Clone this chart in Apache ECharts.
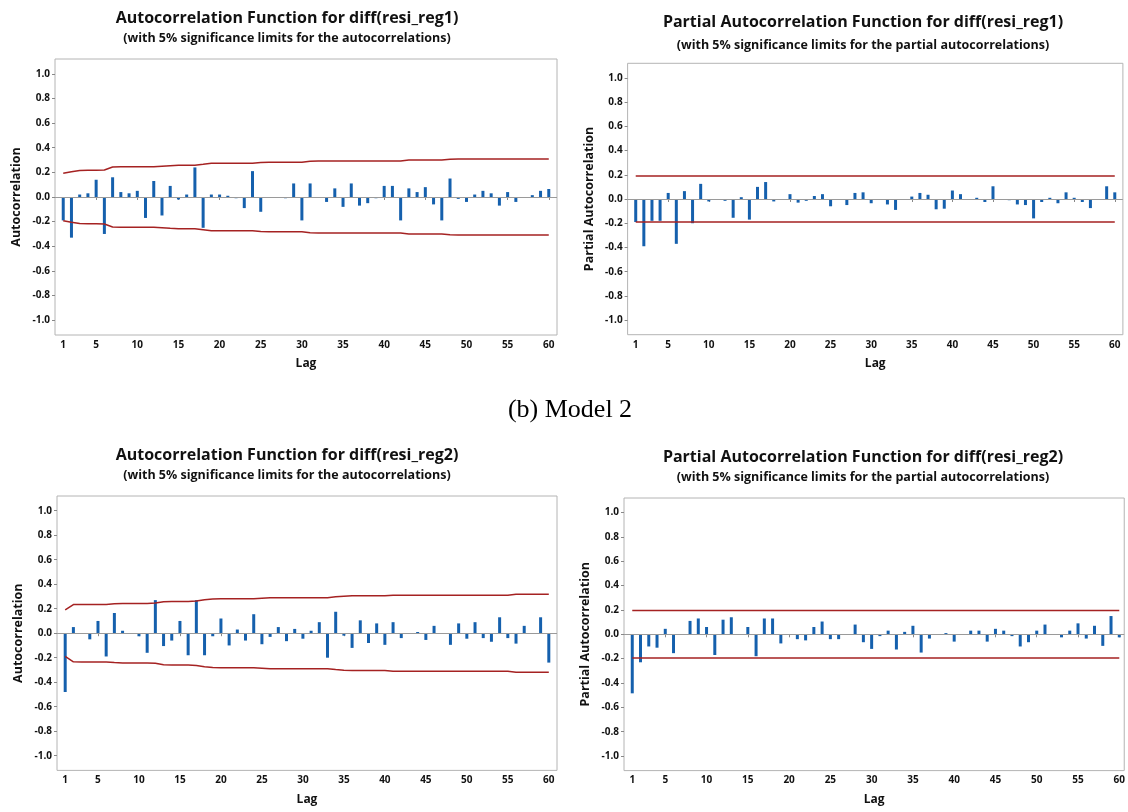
<!DOCTYPE html>
<html><head><meta charset="utf-8">
<script src="https://cdn.jsdelivr.net/npm/echarts@6/dist/echarts.min.js"></script>
<style>html,body{margin:0;padding:0;background:#fff}#c{width:1128px;height:812px}</style>
</head><body><div id="c"></div>
<script>
// ---------- DATA ----------
const lags = [1,2,3,4,5,6,7,8,9,10,11,12,13,14,15,16,17,18,19,20,21,22,23,24,25,26,27,28,29,30,
  31,32,33,34,35,36,37,38,39,40,41,42,43,44,45,46,47,48,49,50,51,52,53,54,55,56,57,58,59,60];
const xTickLabels = [1,5,10,15,20,25,30,35,40,45,50,55,60];
const yTickLabels = [-1.0,-0.8,-0.6,-0.4,-0.2,0.0,0.2,0.4,0.6,0.8,1.0];

// Model 1 ACF
const acf1 = [-0.19,-0.33,0.02,0.03,0.14,-0.30,0.16,0.04,0.03,0.05,
  -0.17,0.13,-0.15,0.09,-0.02,0.02,0.24,-0.25,0.02,0.02,
  0.01,-0.01,-0.09,0.21,-0.12,0.00,0.00,-0.01,0.11,-0.19,
  0.11,0.00,-0.04,0.07,-0.08,0.11,-0.07,-0.05,-0.01,0.09,
  0.09,-0.19,0.07,0.04,0.08,-0.06,-0.19,0.15,-0.015,-0.04,
  0.02,0.05,0.03,-0.07,0.04,-0.04,0.00,0.015,0.05,0.065];
const acf1Limit = [0.192,0.205,0.216,0.217,0.218,0.219,0.243,0.245,0.245,0.245,
  0.245,0.246,0.250,0.254,0.257,0.258,0.258,0.265,0.273,0.274,
  0.274,0.274,0.274,0.274,0.280,0.283,0.283,0.283,0.283,0.283,
  0.291,0.292,0.292,0.292,0.292,0.292,0.292,0.292,0.292,0.292,
  0.292,0.292,0.300,0.301,0.301,0.301,0.301,0.307,0.309,0.309,
  0.309,0.309,0.309,0.309,0.309,0.309,0.309,0.309,0.309,0.309];

// Model 1 PACF
const pacf1 = [-0.19,-0.39,-0.18,-0.18,0.05,-0.37,0.065,-0.20,0.125,-0.02,
  0.00,-0.015,-0.155,0.015,-0.17,0.10,0.14,-0.02,0.00,0.04,
  -0.03,-0.015,0.025,0.04,-0.06,0.00,-0.05,0.05,0.055,-0.035,
  0.00,-0.045,-0.09,0.00,0.02,0.05,0.035,-0.085,-0.08,0.07,
  0.04,0.00,0.01,-0.025,0.105,0.00,-0.01,-0.045,-0.05,-0.16,
  -0.025,0.01,-0.035,0.055,0.01,-0.025,-0.075,0.00,0.105,0.055];
const pacf1Limit = 0.19;

// Model 2 ACF
const acf2 = [-0.48,0.05,0.00,-0.05,0.10,-0.19,0.165,0.02,0.00,-0.025,
  -0.16,0.27,-0.105,-0.06,0.10,-0.18,0.27,-0.18,-0.025,0.12,
  -0.10,0.03,-0.06,0.155,-0.09,-0.03,0.05,-0.065,0.035,-0.045,
  0.02,0.09,-0.20,0.175,-0.02,-0.12,0.105,-0.08,0.08,-0.095,
  0.09,-0.04,0.00,0.01,-0.055,0.06,0.00,-0.095,0.08,-0.045,
  0.09,-0.04,-0.07,0.13,-0.04,-0.085,0.06,0.00,0.13,-0.24];
const acf2Limit = [0.19,0.234,0.235,0.235,0.235,0.235,0.240,0.243,0.243,0.243,
  0.243,0.246,0.257,0.259,0.259,0.259,0.263,0.273,0.280,0.282,
  0.282,0.282,0.282,0.282,0.286,0.290,0.290,0.290,0.290,0.290,
  0.290,0.290,0.290,0.297,0.302,0.305,0.305,0.305,0.305,0.305,
  0.310,0.310,0.310,0.310,0.310,0.310,0.310,0.310,0.310,0.310,
  0.310,0.310,0.310,0.310,0.310,0.318,0.318,0.318,0.318,0.318];

// Model 2 PACF
const pacf2 = [-0.485,-0.23,-0.10,-0.11,0.045,-0.155,0.00,0.11,0.13,0.06,
  -0.17,0.12,0.14,0.00,0.06,-0.18,0.13,0.13,-0.075,0.00,
  -0.04,-0.05,0.06,0.105,-0.04,-0.04,0.00,0.08,-0.065,-0.12,
  -0.015,0.03,-0.125,0.02,0.07,-0.15,-0.035,0.00,0.01,-0.06,
  0.00,0.03,0.03,-0.06,0.045,0.03,-0.015,-0.10,-0.065,0.03,
  0.08,0.00,-0.025,0.03,0.09,-0.035,0.07,-0.095,0.15,-0.025];
const pacf2Limit = 0.195;

// ---------- CHART ----------
const FONT = "'Open Sans','Noto Sans',sans-serif";
const BAR = '#1560ad', LIM = '#a52222', BOX = '#b4b4b4', ZERO = '#9a9a9a';

const panels = [
  {vals: acf1, lim: acf1Limit, yname: 'Autocorrelation',
   title: 'Autocorrelation Function for diff(resi_reg1)',
   sub: '(with 5% significance limits for the autocorrelations)',
   grid: {left: 55, top: 59, width: 502, height: 276}, xmax: 61, tx: 287, ty: 18, sy: 38},
  {vals: pacf1, lim: pacf1Limit, yname: 'Partial Autocorrelation',
   title: 'Partial Autocorrelation Function for diff(resi_reg1)',
   sub: '(with 5% significance limits for the partial autocorrelations)',
   grid: {left: 627.6, top: 63.3, width: 495.3, height: 271.4}, xmax: 61, tx: 863, ty: 22, sy: 45},
  {vals: acf2, lim: acf2Limit, yname: 'Autocorrelation',
   title: 'Autocorrelation Function for diff(resi_reg2)',
   sub: '(with 5% significance limits for the autocorrelations)',
   grid: {left: 57, top: 496, width: 500, height: 274.4}, xmax: 61, tx: 287, ty: 455, sy: 475},
  {vals: pacf2, lim: pacf2Limit, yname: 'Partial Autocorrelation',
   title: 'Partial Autocorrelation Function for diff(resi_reg2)',
   sub: '(with 5% significance limits for the partial autocorrelations)',
   grid: {left: 624, top: 498, width: 501, height: 272.6}, xmax: 60.6, tx: 863, ty: 457, sy: 477}
];

const grids = [], xAxes = [], yAxes = [], series = [], graphics = [];
panels.forEach((p, i) => {
  grids.push(Object.assign({show: true, borderColor: BOX, borderWidth: 1, backgroundColor: '#fff'}, p.grid));
  xAxes.push({
    type: 'value', gridIndex: i, min: 0, max: p.xmax,
    name: 'Lag', nameLocation: 'middle', nameGap: 23,
    nameTextStyle: {fontFamily: FONT, fontWeight: 'bold', fontSize: 12, color: '#111'},
    axisLine: {show: false}, splitLine: {show: false},
    axisTick: {show: true, customValues: xTickLabels, length: 3, lineStyle: {color: '#888'}},
    axisLabel: {customValues: xTickLabels, fontFamily: FONT, fontWeight: 'bold', fontSize: 10, color: '#111', margin: 5}
  });
  yAxes.push({
    type: 'value', gridIndex: i, min: -1.12, max: 1.12,
    name: p.yname, nameLocation: 'middle', nameGap: 32, nameRotate: 90,
    nameTextStyle: {fontFamily: FONT, fontWeight: 'bold', fontSize: 12.5, color: '#111'},
    axisLine: {show: false}, splitLine: {show: false},
    axisTick: {show: true, customValues: yTickLabels, length: 3, lineStyle: {color: '#888'}},
    axisLabel: {customValues: yTickLabels, fontFamily: FONT, fontWeight: 'bold', fontSize: 10, color: '#111', margin: 5,
      formatter: v => (Math.abs(v) < 1e-9 ? 0 : v).toFixed(1)}
  });
  const limArr = Array.isArray(p.lim) ? p.lim : lags.map(() => p.lim);
  series.push({
    type: 'bar', xAxisIndex: i, yAxisIndex: i, barWidth: 3,
    itemStyle: {color: BAR},
    data: lags.map((l, k) => [l, p.vals[k]]),
    markLine: {silent: true, symbol: ['none', 'none'], label: {show: false},
      lineStyle: {color: ZERO, width: 1, type: 'solid'}, data: [{yAxis: 0}]}
  });
  series.push({type: 'line', xAxisIndex: i, yAxisIndex: i, showSymbol: false, symbol: 'none',
    lineStyle: {color: LIM, width: 1.5}, data: lags.map((l, k) => [l, limArr[k]])});
  series.push({type: 'line', xAxisIndex: i, yAxisIndex: i, showSymbol: false, symbol: 'none',
    lineStyle: {color: LIM, width: 1.5}, data: lags.map((l, k) => [l, -limArr[k]])});
  graphics.push({type: 'text', x: p.tx, y: p.ty, style: {text: p.title, fill: '#111',
    font: 'bold 16px ' + FONT, align: 'center', verticalAlign: 'middle'}});
  graphics.push({type: 'text', x: p.tx, y: p.sy, style: {text: p.sub, fill: '#111',
    font: 'bold 12.5px ' + FONT, align: 'center', verticalAlign: 'middle'}});
});
graphics.push({type: 'text', x: 570, y: 410, style: {text: '(b) Model 2', fill: '#000',
  font: "26px 'Liberation Serif','Times New Roman',serif", align: 'center', verticalAlign: 'middle'}});

const chart = echarts.init(document.getElementById('c'), null, {renderer: 'canvas'});
chart.setOption({
  animation: false, backgroundColor: '#fff',
  grid: grids, xAxis: xAxes, yAxis: yAxes, series: series, graphic: graphics
});
</script>
</body></html>
